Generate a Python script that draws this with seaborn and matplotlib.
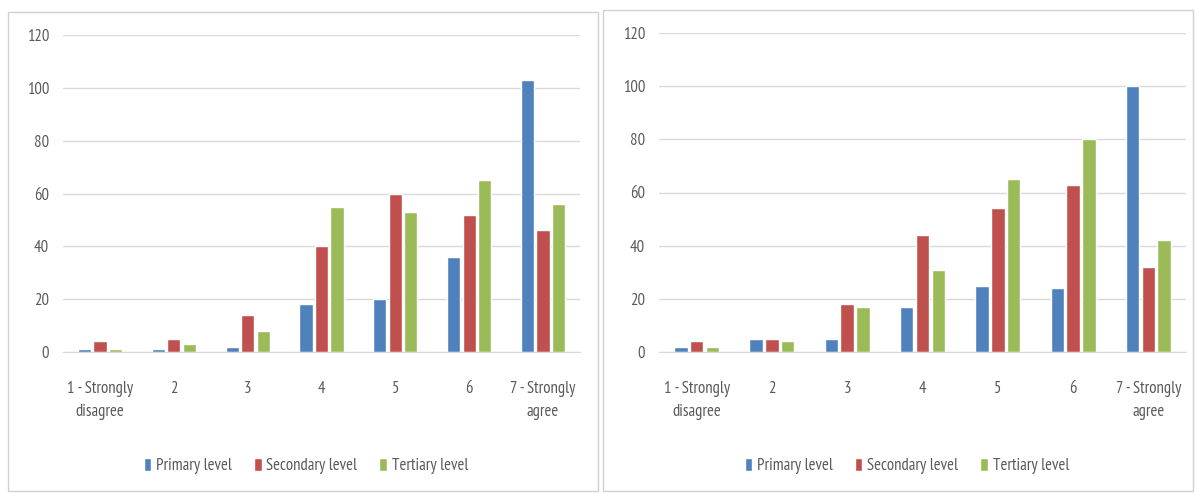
import pandas as pd
import matplotlib
matplotlib.use("Agg")
import matplotlib.pyplot as plt
from matplotlib.patches import Rectangle
import seaborn as sns

# ---- data ----
categories = ["1 - Strongly\ndisagree", "2", "3", "4", "5", "6", "7 - Strongly\nagree"]
levels = ["Primary level", "Secondary level", "Tertiary level"]

left_primary = [1, 1, 2, 18, 20, 36, 103]
left_secondary = [4, 5, 14, 40, 60, 52, 46]
left_tertiary = [1, 3, 8, 55, 53, 65, 56]

right_primary = [2, 5, 5, 17, 25, 24, 100]
right_secondary = [4, 5, 18, 44, 54, 63, 32]
right_tertiary = [2, 4, 17, 31, 65, 80, 42]

colors = ["#4F81BD", "#C0504D", "#9BBB59"]
text_color = "#595959"


def to_long(primary, secondary, tertiary):
    rows = []
    for level, vals in zip(levels, [primary, secondary, tertiary]):
        for cat, v in zip(categories, vals):
            rows.append({"category": cat, "level": level, "value": v})
    return pd.DataFrame(rows)


sns.set_style("white")
plt.rcParams["font.family"] = ["PT Sans Narrow", "DejaVu Sans"]

fig = plt.figure(figsize=(11.95, 4.93), dpi=100)

# panel frames
W, H = 1195, 493
for x0, y0, x1 in [(8, 12, 598), (603, 10, 1193)]:
    fig.patches.append(Rectangle((x0 / W, 1 - 491 / H), (x1 - x0) / W, (491 - y0) / H,
                                 transform=fig.transFigure, fill=False,
                                 edgecolor="#D0D0D0", linewidth=1))

# axes boxes in pixels: x0, x1, y of zero line, y of 120 line
panels = [
    (to_long(left_primary, left_secondary, left_tertiary), (63, 580, 352, 35), 306),
    (to_long(right_primary, right_secondary, right_tertiary), (659, 1186, 352, 33), 907),
]

for df, (px0, px1, pzero, ptop), legend_x in panels:
    ax = fig.add_axes([px0 / W, 1 - pzero / H, (px1 - px0) / W, (pzero - ptop) / H])
    sns.barplot(data=df, x="category", y="value", hue="level", palette=colors,
                width=0.63, gap=0.15, saturation=1, ax=ax, legend=True)
    ax.set_ylim(0, 120)
    ax.set_yticks(range(0, 121, 20))
    ax.yaxis.grid(True, color="#D9D9D9", linewidth=1)
    ax.set_axisbelow(True)
    for s in ["top", "right", "left"]:
        ax.spines[s].set_visible(False)
    ax.spines["bottom"].set_color("#D9D9D9")
    ax.set_xlabel("")
    ax.set_ylabel("")
    ax.tick_params(axis="both", length=0, colors=text_color, labelsize=12)
    ax.tick_params(axis="x", pad=21)
    ax.tick_params(axis="y", pad=10)
    for lab in ax.get_xticklabels():
        lab.set_linespacing(1.6)
    handles, labels = ax.get_legend_handles_labels()
    ax.get_legend().remove()
    fig.legend(handles, labels, loc="center", bbox_to_anchor=(legend_x / W, 1 - 466 / H),
               ncol=3, frameon=False, fontsize=12, labelcolor=text_color,
               handlelength=0.45, handleheight=0.8, handletextpad=0.3, columnspacing=1.3)

plt.savefig("out.png", dpi=100)
